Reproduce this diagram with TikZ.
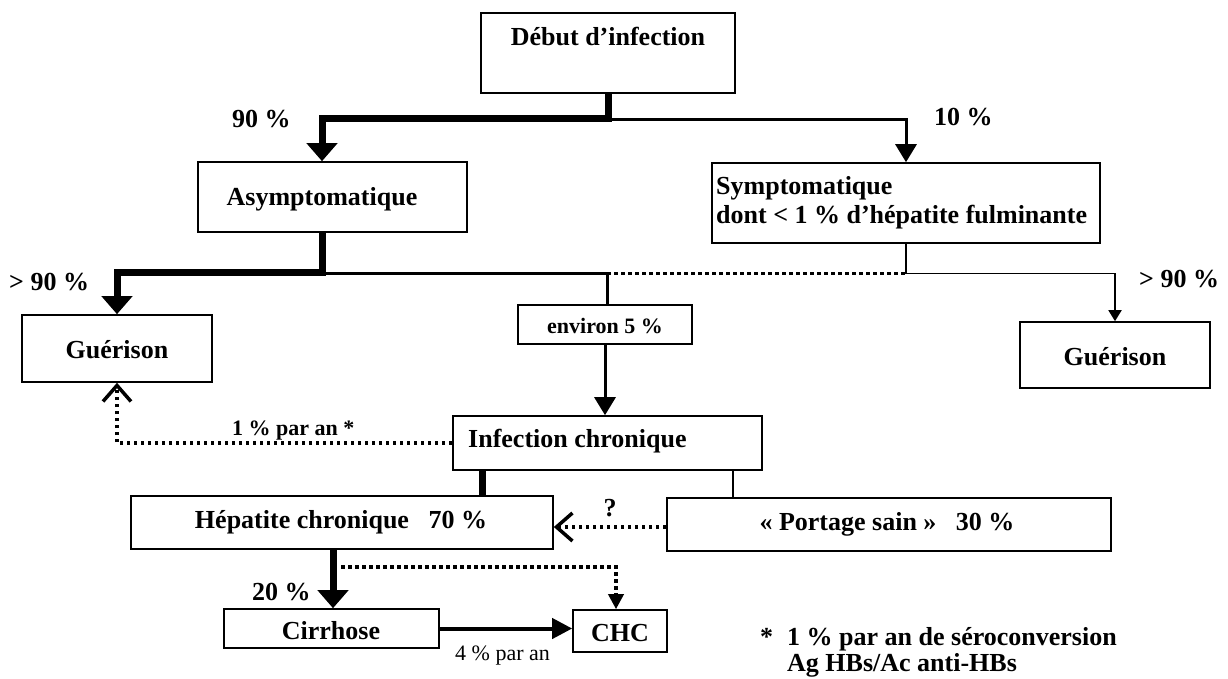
\documentclass[tikz,border=0pt]{standalone}
\usepackage{fontspec}
\setmainfont{Liberation Serif}
\usetikzlibrary{arrows.meta}
\tikzset{
 box/.style={draw, line width=1.6pt, inner sep=0pt},
 txt/.style={font=\fontsize{26}{29}\selectfont\bfseries, inner sep=0pt},
 sml/.style={font=\fontsize{22}{24}\selectfont\bfseries, inner sep=0pt},
 smlreg/.style={font=\fontsize{22}{24}\selectfont, inner sep=0pt},
 thk/.style={line width=7pt},
 med/.style={line width=3pt},
 thn/.style={line width=1.8pt},
 dotl/.style={line width=3.5pt, dash pattern=on 3.5pt off 3.5pt},
 bigtip/.style={-{Triangle[width=30pt,length=18pt]}},
 midtip/.style={-{Triangle[width=21pt,length=18pt]}},
 smltip/.style={-{Triangle[width=13pt,length=11pt]}},
 dottip/.style={-{Triangle[width=15pt,length=15pt]}},
 opentip/.style={-{Straight Barb[width=28pt,length=16pt]}},
}
\begin{document}
\begin{tikzpicture}[x=1pt,y=-1pt]
\fill[white] (0,0) rectangle (1228,678);
\useasboundingbox (0,0) rectangle (1228,678);

% boxes
\node[box, minimum width=254pt, minimum height=80pt] (debut) at (608,53) {};
\node[box, minimum width=269pt, minimum height=70pt] (asym) at (332.5,197) {};
\node[box, minimum width=388pt, minimum height=80pt] (sym) at (906,203) {};
\node[box, minimum width=190pt, minimum height=67pt] (guer1) at (117,348.5) {};
\node[box, minimum width=174pt, minimum height=39pt] (env) at (605,324.5) {};
\node[box, minimum width=190pt, minimum height=66pt] (guer2) at (1115,355) {};
\node[box, minimum width=309pt, minimum height=54pt] (infc) at (607.5,443) {};
\node[box, minimum width=422pt, minimum height=53pt] (hep) at (342,522.5) {};
\node[box, minimum width=444pt, minimum height=53pt] (port) at (889,524.5) {};
\node[box, minimum width=215pt, minimum height=39pt] (cirr) at (331.5,628.5) {};
\node[box, minimum width=94pt, minimum height=42pt] (chc) at (620,631) {};

% box texts
\node[txt, anchor=base] (tdebut) at (608,45) {Début d’infection};
\node[txt, anchor=base] (tasym) at (322,205) {Asymptomatique};
\node[txt, anchor=base west] (tsym1) at (716,194) {Symptomatique};
\node[txt, anchor=base west] (tsym2) at (716,223) {dont < 1 \% d’hépatite fulminante};
\node[txt, anchor=base] (tguer1) at (117,358) {Guérison};
\node[sml, anchor=base] (tenv) at (605,333) {environ 5 \%};
\node[txt, anchor=base] (tguer2) at (1115,365) {Guérison};
\node[txt, anchor=base west] (tinfc) at (468,447) {Infection chronique};
\node[txt, anchor=base] (thep) at (341,528) {Hépatite chronique\hspace{0.75em}70 \%};
\node[txt, anchor=base] (tport) at (887,530) {« Portage sain »\hspace{0.75em}30 \%};
\node[txt, anchor=base] (tcirr) at (331,639) {Cirrhose};
\node[txt, anchor=base] (tchc) at (620,641) {CHC};

% labels
\node[txt, anchor=base west] (l90) at (232,127) {90 \%};
\node[txt, anchor=base west] (l10) at (934,125) {10 \%};
\node[txt, anchor=base west] (lg90a) at (9,290) {> 90 \%};
\node[txt, anchor=base west] (lg90b) at (1139,287) {> 90 \%};
\node[sml, anchor=base west] (l1pa) at (232,435) {1 \% par an *};
\node[txt, anchor=base] (lq) at (610,516) {?};
\node[txt, anchor=base west] (l20) at (252,600) {20 \%};
\node[smlreg, anchor=base west] (l4pa) at (455,660) {4 \% par an};
\node[txt, anchor=base west] (fnstar) at (760,645) {*};
\node[txt, anchor=base west] (fn1) at (787,645) {1 \% par an de séroconversion};
\node[txt, anchor=base west] (fn2) at (787,671) {Ag HBs/Ac anti-HBs};

% connectors
\coordinate (j1) at (608,118);
\coordinate (xa) at (322,0);
\draw[thk,bigtip] (debut.south) -- (j1) -| (xa |- asym.north);
\coordinate (j1b) at (608,119.5);
\draw[med,midtip] (j1b) -| (sym.north);

\coordinate (j2) at (322,272);
\draw[thk,bigtip] (xa |- asym.south) -- (j2) -| (guer1.north);
\coordinate (j3) at (607,273.5);
\draw[med,line cap=rect] (j2 |- j3) -- (j3);
\draw[med] (j3) -- (j3 |- env.north);
\draw[dotl] (j3) -- (sym.south |- j3);
\draw[thn,smltip] (sym.south) -- (sym.south |- j3) -| (guer2.north);

\draw[med,midtip] (env.south) -- (env.south |- infc.north);
\draw[dotl,opentip] (infc.west) -| (guer1.south);

\coordinate (xh) at (482,0);
\draw[thk] (xh |- infc.south) -- (xh |- hep.north);
\coordinate (xp) at (733,0);
\draw[thn] (xp |- infc.south) -- (xp |- port.north);

\coordinate (yq) at (0,527);
\draw[dotl,opentip] (port.west |- yq) -- (hep.east |- yq);

\coordinate (xc) at (333,0);
\draw[thk,bigtip] (xc |- hep.south) -- (xc |- cirr.north);
\coordinate (d0) at (341,567);
\coordinate (xk) at (616,0);
\draw[dotl,dottip] (d0) -| (xk |- chc.north);
\draw[line width=4pt,-{Triangle[width=20pt,length=20pt]}] (cirr.east) -- (chc.west |- cirr.east);
\end{tikzpicture}
\end{document}
